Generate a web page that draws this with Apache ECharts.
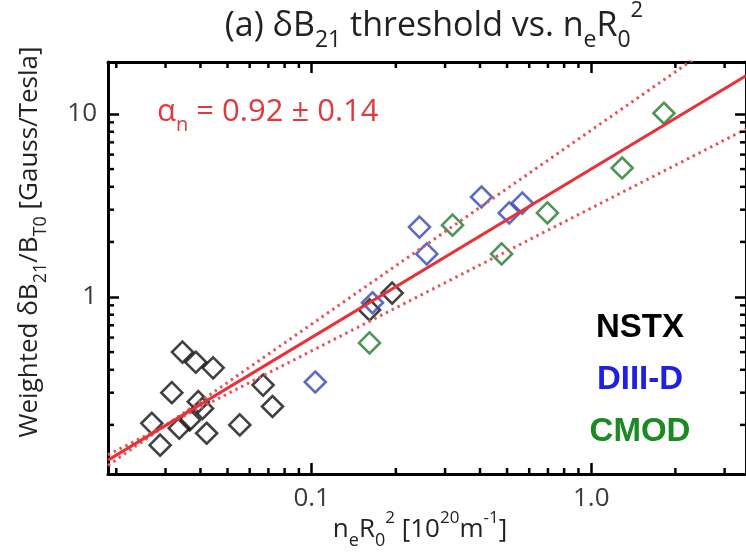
<!DOCTYPE html>
<html><head><meta charset="utf-8">
<script src="https://cdn.jsdelivr.net/npm/echarts@6/dist/echarts.min.js"></script>
<style>html,body{margin:0;padding:0;background:#fff}#c{width:746px;height:554px}</style>
</head><body><div id="c"></div>
<script>
// ---- data ----
const nstxX = [0.0345, 0.0385, 0.0444, 0.0316, 0.0268, 0.0287, 0.0336, 0.0366, 0.0393, 0.0407, 0.0421, 0.0553, 0.0670, 0.0724, 0.161, 0.194];
const nstxY = [0.50, 0.44, 0.41, 0.30, 0.204, 0.155, 0.192, 0.213, 0.268, 0.246, 0.180, 0.200, 0.330, 0.252, 0.85, 1.05];
const d3dX = [0.103, 0.165, 0.243, 0.258, 0.405, 0.509, 0.567];
const d3dY = [0.343, 0.93, 2.41, 1.72, 3.52, 2.88, 3.26];
const cmodX = [0.161, 0.319, 0.478, 0.697, 1.29, 1.82];
const cmodY = [0.561, 2.47, 1.72, 2.88, 5.07, 10.1];
const fitX = [0.01868, 3.578];
const fitY = [0.1284, 16.16];
const upperY = [0.1201, 31.5];
const lowerY = [0.1372, 8.27];
const xMin = 0.01868, xMax = 3.578, yMin = 0.1078, yMax = 19.24;
const xMinorTicks = [0.02,0.03,0.04,0.05,0.06,0.07,0.08,0.09,0.2,0.3,0.4,0.5,0.6,0.7,0.8,0.9,2,3];
const yMinorTicks = [0.2,0.3,0.4,0.5,0.6,0.7,0.8,0.9,2,3,4,5,6,7,8,9];
const xTickLabels = {'-1':'0.1','0':'1.0'};
const yTickLabels = {'0':'1','1':'10'};
const groupNames = ['NSTX','DIII-D','CMOD'];

const zip = (a,b)=>a.map((v,i)=>[v,b[i]]);
const chart = echarts.init(document.getElementById('c'), null, {renderer:'canvas'});
const FONT = 'Open Sans';
const axisCommon = {
  type:'log', logBase:10,
  axisLine:{show:true, onZero:false, lineStyle:{color:'#000', width:3}},
  axisTick:{show:true, inside:true, length:11, lineStyle:{color:'#000', width:2.5}},
  splitLine:{show:false}, minorTick:{show:false}
};
function fmt(map){ return v => { const k = String(Math.round(Math.log10(v))); return (Math.abs(Math.log10(v)-Math.round(Math.log10(v)))<1e-6 && map[k]) ? map[k] : ''; }; }
const symStyle = c => ({color:'rgba(0,0,0,0)', borderColor:c, borderWidth:2.6});
const sub = (fs, lh, c) => ({fontSize:fs, fontFamily:FONT, fill:c, lineHeight:lh, verticalAlign:'bottom'});
const sup = (fs, lh, c) => ({fontSize:fs, fontFamily:FONT, fill:c, lineHeight:lh, verticalAlign:'top'});
const nrm = (fs, lh, c) => ({fontSize:fs, fontFamily:FONT, fill:c, lineHeight:lh, verticalAlign:'middle'});

const tickData = xMinorTicks.map(v=>[v, 1, 0]).concat(yMinorTicks.map(v=>[1, v, 1]));

chart.setOption({
  animation:false,
  backgroundColor:'#fff',
  grid:{left:108, right:-1, top:62, bottom:80, containLabel:false},
  xAxis:[
    Object.assign({}, axisCommon, {position:'bottom', min:xMin, max:xMax,
      axisLabel:{show:true, margin:12, fontSize:26, fontFamily:FONT, color:'#3a3a3a', formatter:fmt(xTickLabels), showMinLabel:false, showMaxLabel:false}}),
    Object.assign({}, axisCommon, {position:'top', min:xMin, max:xMax, axisLabel:{show:false}})
  ],
  yAxis:[
    Object.assign({}, axisCommon, {position:'left', min:yMin, max:yMax,
      axisLabel:{show:true, margin:11, fontSize:26, fontFamily:FONT, color:'#3a3a3a', formatter:fmt(yTickLabels), showMinLabel:false, showMaxLabel:false}}),
    Object.assign({}, axisCommon, {position:'right', min:yMin, max:yMax, axisLabel:{show:false}})
  ],
  series:[
    {name:groupNames[0], type:'scatter', symbol:'diamond', symbolSize:21, itemStyle:symStyle('#111'), data:zip(nstxX,nstxY), z:2},
    {name:groupNames[1], type:'scatter', symbol:'diamond', symbolSize:21, itemStyle:symStyle('#3547b0'), data:zip(d3dX,d3dY), z:2},
    {name:groupNames[2], type:'scatter', symbol:'diamond', symbolSize:21, itemStyle:symStyle('#217a2e'), data:zip(cmodX,cmodY), z:2},
    {type:'line', data:zip(fitX,upperY), showSymbol:false, symbol:'none', clip:true, z:3, lineStyle:{color:'#e4545c', width:3, type:[2.5,4]}},
    {type:'line', data:zip(fitX,lowerY), showSymbol:false, symbol:'none', clip:true, z:3, lineStyle:{color:'#e4545c', width:3, type:[2.5,4]}},
    {type:'line', data:zip(fitX,fitY), showSymbol:false, symbol:'none', clip:true, z:4, lineStyle:{color:'#e8323a', width:3}},
    {type:'custom', z:5, data:tickData, encode:{x:0, y:1},
      renderItem:(params, api)=>{
        const cs = params.coordSys; const kind = api.value(2);
        const st = {stroke:'#000', lineWidth:2.5};
        if(kind===0){
          const x = api.coord([api.value(0), 1])[0];
          return {type:'group', children:[
            {type:'line', shape:{x1:x, y1:cs.y+cs.height, x2:x, y2:cs.y+cs.height-6}, style:st},
            {type:'line', shape:{x1:x, y1:cs.y, x2:x, y2:cs.y+6}, style:st}]};
        } else {
          const y = api.coord([1, api.value(1)])[1];
          return {type:'group', children:[
            {type:'line', shape:{x1:cs.x, y1:y, x2:cs.x+6, y2:y}, style:st},
            {type:'line', shape:{x1:cs.x+cs.width, y1:y, x2:cs.x+cs.width-6, y2:y}, style:st}]};
        }
      }}
  ],
  graphic:[
    {type:'text', x:434, y:26, style:{text:'{n|(a) δB}{s|21}{n| threshold vs. n}{s|e}{n|R}{s|0}{p|2}', align:'center', verticalAlign:'middle',
      rich:{n:nrm(34,52,'#222'), s:sub(23,23,'#222'), p:sup(22,34,'#222')}}},
    {type:'text', x:420, y:530, style:{text:'{n|n}{s|e}{n|R}{s|0}{p|2}{n| [10}{p|20}{n|m}{p|-1}{n|]}', align:'center', verticalAlign:'middle',
      rich:{n:nrm(26,40,'#222'), s:sub(18,18,'#222'), p:sup(17,26,'#222')}}},
    {type:'text', x:30, y:242, rotation:Math.PI/2, style:{text:'{n|Weighted δB}{s|21}{n|/B}{s|T0}{n| [Gauss/Tesla]}', align:'center', verticalAlign:'middle',
      rich:{n:nrm(26,40,'#222'), s:sub(18,18,'#222')}}},
    {type:'text', x:157, y:112, style:{text:'{n|α}{s|n}{n| = 0.92 ± 0.14}', align:'left', verticalAlign:'middle',
      rich:{n:nrm(31,46,'#e0393e'), s:sub(20,20,'#e0393e')}}},
    {type:'text', x:640, y:328, style:{text:groupNames[0], align:'center', verticalAlign:'middle', fontSize:33, fontWeight:'bold', fontFamily:'Liberation Sans', fill:'#000'}},
    {type:'text', x:640, y:380, style:{text:groupNames[1], align:'center', verticalAlign:'middle', fontSize:33, fontWeight:'bold', fontFamily:'Liberation Sans', fill:'#1f1fe6'}},
    {type:'text', x:640, y:432, style:{text:groupNames[2], align:'center', verticalAlign:'middle', fontSize:33, fontWeight:'bold', fontFamily:'Liberation Sans', fill:'#1a8a22'}}
  ]
});
</script></body></html>
